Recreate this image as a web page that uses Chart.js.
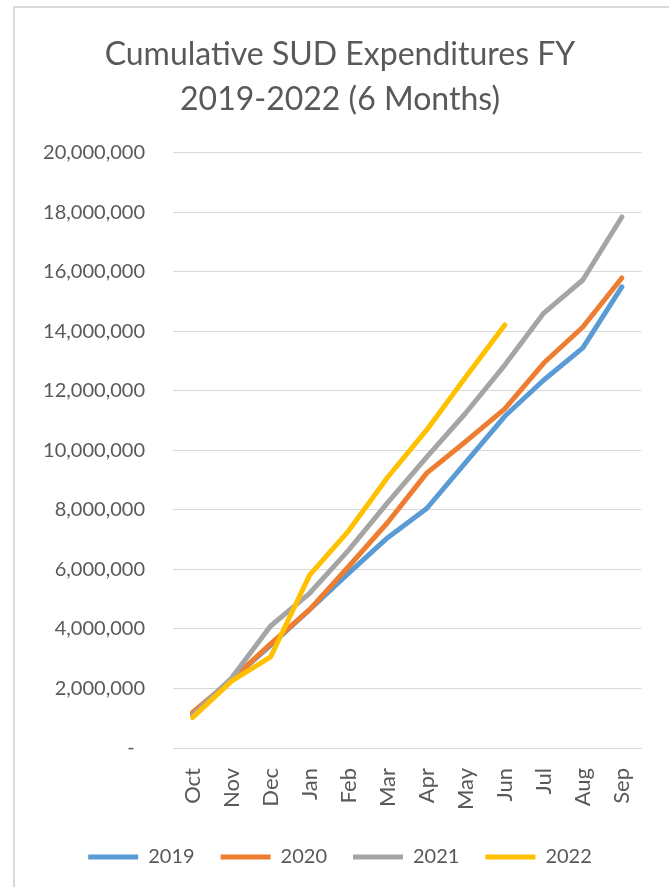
<!DOCTYPE html>
<html><head><meta charset="utf-8">
<script src="https://cdn.jsdelivr.net/npm/chart.js@4"></script>
<style>
html,body{margin:0;padding:0;background:#fff;overflow:hidden;width:669px;height:887px;}
#frame{position:absolute;left:13px;top:6px;width:700px;height:900px;border-left:2px solid #d9d9d9;border-top:2px solid #d9d9d9;}
#wrap{position:absolute;left:29px;top:0;width:640px;height:887px;}
</style></head><body>
<div id="frame"></div>
<div id="wrap"><canvas id="c" width="640" height="887"></canvas></div>
<script>
const months = ['Oct','Nov','Dec','Jan','Feb','Mar','Apr','May','Jun','Jul','Aug','Sep'];
const fy2019 = [1150000, 2300000, 3450000, 4650000, 5880000, 7070000, 8050000, 9600000, 11150000, 12370000, 13450000, 15500000];
const fy2020 = [1200000, 2300000, 3500000, 4650000, 6100000, 7580000, 9240000, 10300000, 11400000, 12940000, 14150000, 15800000];
const fy2021 = [1100000, 2350000, 4100000, 5200000, 6650000, 8250000, 9780000, 11260000, 12870000, 14620000, 15730000, 17850000];
const fy2022 = [1020000, 2250000, 3060000, 5810000, 7300000, 9100000, 10690000, 12470000, 14220000, null, null, null];
const titleLines = ['Cumulative SUD Expenditures FY', '2019-2022 (6 Months)'];
const yMin = 0, yMax = 20000000, yStep = 2000000;

const txt = '#595959';
function ds(label, data, color, order){
  return {label, data, borderColor: color, backgroundColor: color, borderWidth: 5,
    borderCapStyle: 'round', borderJoinStyle: 'round', pointRadius: 0, pointHoverRadius: 0,
    tension: 0, fill: false, spanGaps: false, order};
}
new Chart(document.getElementById('c'), {
  type: 'line',
  data: {
    labels: months,
    datasets: [
      ds('2019', fy2019, '#5B9BD5', 4),
      ds('2020', fy2020, '#ED7D31', 3),
      ds('2021', fy2021, '#A5A5A5', 2),
      ds('2022', fy2022, '#FFC000', 1)
    ]
  },
  options: {
    responsive: false,
    animation: false,
    devicePixelRatio: 1,
    layout: {padding: {left: 0, right: 18, top: 0, bottom: 10}},
    plugins: {
      tooltip: {enabled: false},
      title: {display: true, text: titleLines, color: txt,
        font: {family: 'Lato', size: 32, weight: 'normal', lineHeight: 1.406},
        padding: {top: 32, bottom: 31}},
      legend: {position: 'bottom', align: 'center',
        labels: {usePointStyle: true, pointStyle: 'line', pointStyleWidth: 50,
          sort: (a, b) => a.datasetIndex - b.datasetIndex,
          color: txt, padding: 26, font: {family: 'Lato', size: 20}}}
    },
    scales: {
      x: {
        offset: true,
        grid: {display: false, drawTicks: false},
        border: {display: true, color: '#d9d9d9', width: 1},
        ticks: {color: txt, font: {family: 'Lato', size: 22}, minRotation: 90, maxRotation: 90, padding: 20, autoSkip: false},
        afterFit: s => { s.height = 73; }
      },
      y: {
        min: yMin, max: yMax,
        grid: {color: '#d9d9d9', lineWidth: 1, drawTicks: false},
        border: {display: false},
        ticks: {stepSize: yStep, color: txt, font: {family: 'Lato', size: 20}, padding: 28,
          callback: v => v === 0 ? '-  ' : Number(v).toLocaleString('en-US')},
        afterFit: s => { s.width = 144; }
      }
    }
  }
});
</script>
</body></html>
